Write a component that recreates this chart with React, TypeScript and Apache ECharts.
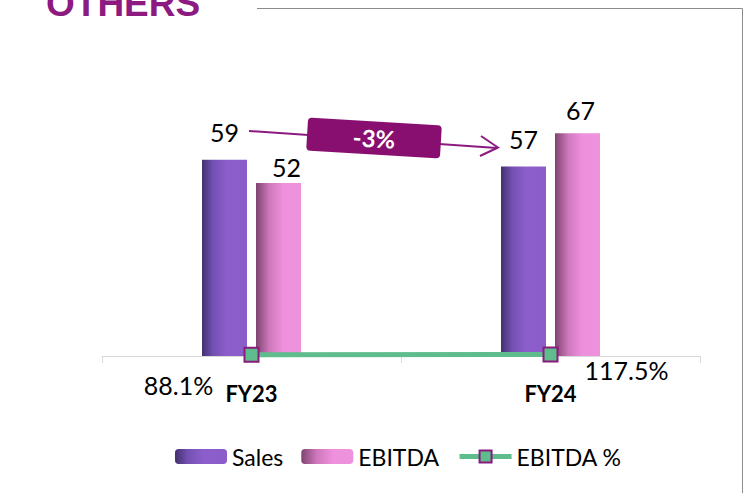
import React, { useEffect, useRef } from "react";
import * as echarts from "echarts";

const categories = ["FY23", "FY24"];
const salesValues = [59, 57];
const ebitdaValues = [52, 67];
const ebitdaPctValues = [88.1, 117.5];
const growthLabel = "-3%";
const titleText = "OTHERS";

const FONT = "Lato, 'Open Sans', sans-serif";

const salesGrad = new echarts.graphic.LinearGradient(0, 0, 1, 0, [
  { offset: 0, color: "#43306f" },
  { offset: 0.25, color: "#7451b3" },
  { offset: 0.55, color: "#8c5ecb" },
  { offset: 1, color: "#8b5dc9" },
]);
const ebitdaGrad = new echarts.graphic.LinearGradient(0, 0, 1, 0, [
  { offset: 0, color: "#7f4470" },
  { offset: 0.3, color: "#cf78bd" },
  { offset: 0.6, color: "#ee90dc" },
  { offset: 1, color: "#ef92dd" },
]);

export default function App() {
  const ref = useRef<HTMLDivElement>(null);
  useEffect(() => {
    if (!ref.current) return;
    const chart = echarts.init(ref.current, null, { renderer: "svg" });
    chart.setOption({
      animation: false,
      backgroundColor: "#ffffff",
      grid: { left: 102, right: 46, top: 90, bottom: 137 },
      legend: {
        left: 170,
        top: 440,
        itemWidth: 52,
        itemHeight: 15,
        itemGap: 18,
        textStyle: { fontFamily: FONT, fontSize: 23, color: "#000" },
        data: [
          { name: "Sales" },
          { name: "EBITDA" },
          { name: "EBITDA %", lineStyle: { width: 5 } },
        ],
      },
      xAxis: {
        type: "category",
        data: categories,
        axisLine: { lineStyle: { color: "#d9d9d9", width: 1 } },
        axisTick: { show: true, alignWithLabel: false, length: 7, lineStyle: { color: "#d9d9d9" } },
        axisLabel: {
          fontFamily: FONT,
          fontSize: 22,
          fontWeight: "bold",
          color: "#000",
          margin: 26,
        },
      },
      yAxis: [
        { type: "value", min: 0, max: 80, show: false, splitLine: { show: false } },
        { type: "value", min: 0, max: 20000, show: false, splitLine: { show: false } },
      ],
      series: [
        {
          name: "Sales",
          type: "bar",
          barWidth: 45,
          barGap: "20%",
          itemStyle: { color: salesGrad },
          label: {
            show: true,
            position: "top",
            distance: 15,
            fontFamily: FONT,
            fontSize: 25,
            color: "#000",
          },
          data: salesValues,
        },
        {
          name: "EBITDA",
          type: "bar",
          barWidth: 45,
          itemStyle: { color: ebitdaGrad },
          label: {
            show: true,
            position: "top",
            fontFamily: FONT,
            fontSize: 25,
            color: "#000",
          },
          data: ebitdaValues.map((v, i) => ({
            value: v,
            label: i === 0 ? { distance: 4, offset: [8, 0] } : { distance: 11, offset: [3, 0] },
          })),
        },
        {
          name: "EBITDA %",
          type: "line",
          yAxisIndex: 1,
          symbol: "rect",
          symbolSize: 14,
          lineStyle: { color: "#5fbd8d", width: 5 },
          itemStyle: { color: "#5fbd8d", borderColor: "#8b1a7e", borderWidth: 2 },
          label: {
            show: true,
            fontFamily: FONT,
            fontSize: 25,
            color: "#000",
            formatter: (p: any) => p.value.toFixed(1) + "%",
          },
          data: ebitdaPctValues.map((v, i) => ({
            value: v,
            label: i === 0 ? { position: "inside", offset: [-73, 30] } : { position: "inside", offset: [76, 16] },
          })),
          z: 5,
        },
      ],
      graphic: [
        {
          type: "text",
          left: 46,
          top: -15,
          style: {
            text: titleText,
            font: "bold 37px 'Liberation Sans', Arial, sans-serif",
            fill: "#8c1a80",
          },
        },
        {
          type: "polyline",
          shape: { points: [[257, 8.5], [742.5, 8.5], [742.5, 493]] },
          style: { stroke: "#8c8c8c", lineWidth: 1, fill: null },
        },
        {
          type: "line",
          shape: { x1: 249, y1: 131, x2: 497, y2: 148 },
          style: { stroke: "#8c1a80", lineWidth: 2 },
        },
        {
          type: "polyline",
          shape: { points: [[481, 136], [498, 147.5], [480, 156]] },
          style: { stroke: "#8c1a80", lineWidth: 2, fill: null },
        },
        {
          type: "group",
          x: 374,
          y: 138,
          rotation: -0.06,
          children: [
            {
              type: "rect",
              shape: { x: -67, y: -16.5, width: 134, height: 33, r: 4 },
              style: { fill: "#880f70" },
            },
            {
              type: "text",
              x: 0,
              y: 0,
              style: {
                text: growthLabel,
                font: "bold 24px Lato, 'Open Sans', sans-serif",
                fill: "#ffffff",
                align: "center",
                verticalAlign: "middle",
              },
            },
          ],
        },
      ],
    });
    return () => chart.dispose();
  }, []);
  return <div ref={ref} style={{ width: 746, height: 493, position: "absolute", left: 0, top: 0 }} />;
}
